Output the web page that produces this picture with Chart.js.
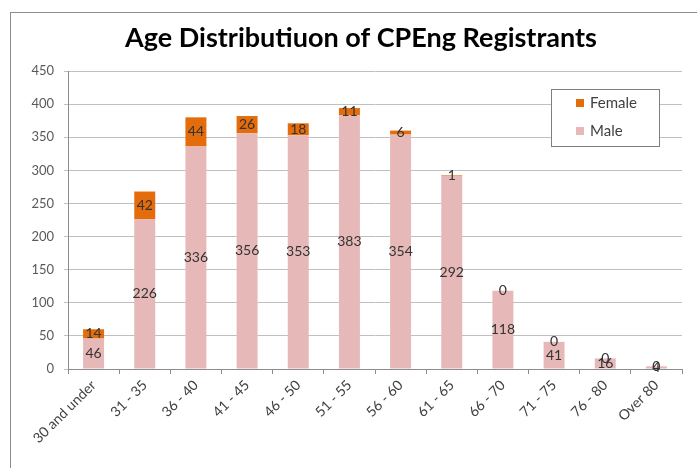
<!DOCTYPE html>
<html>
<head>
<meta charset="utf-8">
<script src="https://cdn.jsdelivr.net/npm/chart.js@4.4.1/dist/chart.umd.min.js"></script>
<style>
  html, body { margin: 0; padding: 0; background: #fff; overflow: hidden; }
  #wrap { position: relative; width: 697px; height: 468px; overflow: hidden; }
  #frame { position: absolute; left: 10px; top: 12px; width: 720px; height: 500px; border: 1px solid #8c8c8c; }
  canvas { position: absolute; left: 0; top: 0; }
</style>
</head>
<body>
<div id="wrap">
  <div id="frame"></div>
  <canvas id="ageChart" width="697" height="468"></canvas>
</div>
<script>
const chartTitle = 'Age Distributiuon of CPEng Registrants';
const categories = ['30 and under', '31 - 35', '36 - 40', '41 - 45', '46 - 50', '51 - 55',
  '56 - 60', '61 - 65', '66 - 70', '71 - 75', '76 - 80', 'Over 80'];
const maleCounts = [46, 226, 336, 356, 353, 383, 354, 292, 118, 41, 16, 4];
const femaleCounts = [14, 42, 44, 26, 18, 11, 6, 1, 0, 0, 0, 0];
const yTicks = [0, 50, 100, 150, 200, 250, 300, 350, 400, 450];

const MALE_COLOR = '#e6b9b8';
const FEMALE_COLOR = '#e46c0a';

// title drawn by hand so it can sit a little right of the canvas centre
const offsetTitle = {
  id: 'offsetTitle',
  afterDraw(chart) {
    const ctx = chart.ctx;
    ctx.save();
    ctx.font = 'bold 27px Lato';
    ctx.fillStyle = '#000';
    ctx.textAlign = 'center';
    ctx.textBaseline = 'middle';
    ctx.fillText(chartTitle, 361, 38);
    ctx.restore();
  }
};

// value labels centred in each stacked segment
const segmentLabels = {
  id: 'segmentLabels',
  afterDatasetsDraw(chart) {
    const ctx = chart.ctx;
    ctx.save();
    ctx.font = '14px Lato';
    ctx.fillStyle = '#333';
    ctx.textAlign = 'center';
    ctx.textBaseline = 'middle';
    chart.data.datasets.forEach((ds, i) => {
      chart.getDatasetMeta(i).data.forEach((bar, j) => {
        const { x, y, base } = bar.getProps(['x', 'y', 'base'], true);
        ctx.fillText(String(ds.data[j]), x, (y + base) / 2);
      });
    });
    ctx.restore();
  }
};

// boxed legend sitting inside the plot, Female listed first
const boxLegend = {
  id: 'boxLegend',
  afterDraw(chart) {
    const ctx = chart.ctx;
    const area = chart.chartArea;
    const w = 108, h = 57;
    const left = area.right - 23 - w;
    const top = area.top + 18;
    ctx.save();
    ctx.fillStyle = '#fff';
    ctx.fillRect(left, top, w, h);
    ctx.strokeStyle = '#7f7f7f';
    ctx.lineWidth = 1;
    ctx.strokeRect(left + 0.5, top + 0.5, w, h);
    const items = chart.data.datasets.slice().reverse();
    ctx.font = '15px Lato';
    ctx.textBaseline = 'middle';
    ctx.textAlign = 'left';
    items.forEach((ds, k) => {
      const cy = top + 14 + k * 28;
      ctx.fillStyle = ds.backgroundColor;
      ctx.fillRect(left + 25, cy - 4, 8, 8);
      ctx.fillStyle = '#404040';
      ctx.fillText(ds.label, left + 39, cy);
    });
    ctx.restore();
  }
};

new Chart(document.getElementById('ageChart'), {
  type: 'bar',
  data: {
    labels: categories,
    datasets: [
      { label: 'Male', data: maleCounts, backgroundColor: MALE_COLOR },
      { label: 'Female', data: femaleCounts, backgroundColor: FEMALE_COLOR }
    ]
  },
  options: {
    responsive: false,
    animation: false,
    barPercentage: 0.41,
    categoryPercentage: 1,
    layout: { padding: { left: 20, right: 15, top: 71, bottom: 0 } },
    plugins: {
      legend: { display: false },
      tooltip: { enabled: false },
      title: { display: false }
    },
    scales: {
      x: {
        stacked: true,
        grid: { display: true, drawOnChartArea: false, drawTicks: true, tickLength: 5, color: '#8c8c8c' },
        border: { color: '#8c8c8c' },
        ticks: {
          minRotation: 45, maxRotation: 45, padding: 3,
          color: '#404040', font: { family: 'Lato', size: 14 }
        },
        afterFit(scale) { scale.height = 99; }
      },
      y: {
        stacked: true,
        min: 0,
        max: 450,
        afterBuildTicks(scale) { scale.ticks = yTicks.map(v => ({ value: v })); },
        grid: { color: '#c0c0c0', tickLength: 4 },
        border: { color: '#8c8c8c' },
        ticks: { padding: 10, color: '#595959', font: { family: 'Lato', size: 13 } },
        afterFit(scale) { scale.width = 48; }
      }
    }
  },
  plugins: [segmentLabels, boxLegend, offsetTitle]
});
</script>
</body>
</html>
